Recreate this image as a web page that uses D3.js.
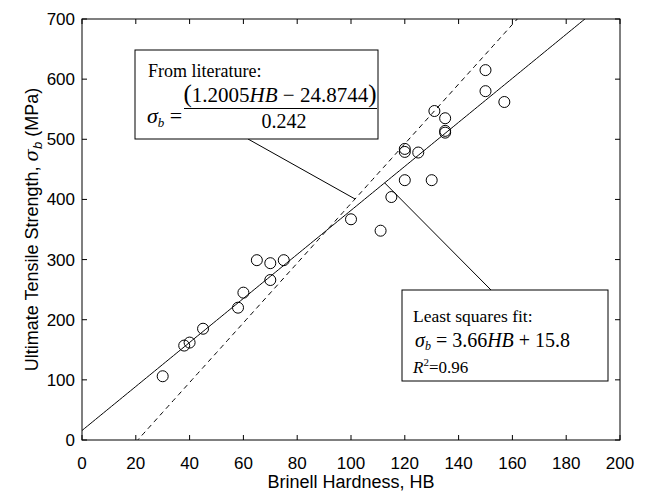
<!DOCTYPE html>
<html>
<head>
<meta charset="utf-8">
<script src="https://cdn.jsdelivr.net/npm/d3@7"></script>
<style>
  html, body { margin: 0; padding: 0; background: #fff; }
  svg { display: block; }
  .tick-label { font-family: "Liberation Sans", Arial, sans-serif; font-size: 17px; fill: #000; }
  .axis-title { font-family: "Liberation Sans", Arial, sans-serif; font-size: 18px; fill: #000; }
  .note { font-family: "Liberation Serif", "Times New Roman", serif; fill: #000; }
</style>
</head>
<body>
<svg id="chart" width="647" height="496"></svg>
<script>
// Measured specimens: Brinell hardness (HB) and ultimate tensile strength (MPa)
const hardness = [30, 38, 40, 45, 58, 60, 65, 70, 75, 70,
                  100, 111, 115, 120, 130, 120, 120, 125, 135, 135,
                  131, 135, 150, 150, 157];
const strength = [106, 157, 162, 185, 220, 245, 299, 294, 299, 266,
                  367, 348, 404, 432, 432, 484, 479, 478, 511, 514,
                  547, 535, 615, 580, 562];

// Axis ticks
const xTicks = [0, 20, 40, 60, 80, 100, 120, 140, 160, 180, 200];
const yTicks = [0, 100, 200, 300, 400, 500, 600, 700];

// Fitted relations
const fitSlope = 3.66, fitIntercept = 15.8;          // least squares fit
const litA = 1.2005, litB = 24.8744, litC = 0.242;   // literature relation
const fitLine = hb => fitSlope * hb + fitIntercept;
const litLine = hb => (litA * hb - litB) / litC;

const svg = d3.select("#chart");
const x = d3.scaleLinear().domain([0, 200]).range([82, 620]);
const y = d3.scaleLinear().domain([0, 700]).range([440, 19]);
const [x0, x1] = x.range();
const [y0, y1] = y.range();

svg.append("defs").append("clipPath").attr("id", "plot-clip")
  .append("rect").attr("x", x0).attr("y", y1).attr("width", x1 - x0).attr("height", y0 - y1);

// Frame with inward ticks on all four sides
const tickLen = 5;
const frame = svg.append("g").attr("stroke", "#000").attr("stroke-width", 1).attr("fill", "none");
frame.append("rect").attr("x", x0).attr("y", y1).attr("width", x1 - x0).attr("height", y0 - y1);
xTicks.forEach(t => {
  frame.append("line").attr("x1", x(t)).attr("x2", x(t)).attr("y1", y0).attr("y2", y0 - tickLen);
  frame.append("line").attr("x1", x(t)).attr("x2", x(t)).attr("y1", y1).attr("y2", y1 + tickLen);
});
yTicks.forEach(t => {
  frame.append("line").attr("x1", x0).attr("x2", x0 + tickLen).attr("y1", y(t)).attr("y2", y(t));
  frame.append("line").attr("x1", x1).attr("x2", x1 - tickLen).attr("y1", y(t)).attr("y2", y(t));
});

// Tick labels
svg.append("g").selectAll("text").data(xTicks).join("text")
  .attr("class", "tick-label").attr("x", d => x(d)).attr("y", y0 + 29)
  .attr("text-anchor", "middle").text(d => d);
svg.append("g").selectAll("text").data(yTicks).join("text")
  .attr("class", "tick-label").attr("x", x0 - 7).attr("y", d => y(d) + 6)
  .attr("text-anchor", "end").text(d => d);

// Axis titles
svg.append("text").attr("class", "axis-title")
  .attr("x", (x0 + x1) / 2).attr("y", 488).attr("text-anchor", "middle")
  .text("Brinell Hardness, HB");
const yt = svg.append("text").attr("class", "axis-title")
  .attr("transform", `translate(38,${(y0 + y1) / 2}) rotate(-90)`).attr("text-anchor", "middle");
yt.append("tspan").text("Ultimate Tensile Strength, ");
yt.append("tspan").attr("font-style", "italic").attr("font-family", "DejaVu Serif, serif").text("σ");
yt.append("tspan").attr("font-style", "italic").attr("font-size", "13px").attr("dy", 4).text("b");
yt.append("tspan").attr("dy", -4).text(" (MPa)");

// Trend lines
const plot = svg.append("g").attr("clip-path", "url(#plot-clip)");
const line = d3.line().x(d => x(d[0])).y(d => y(d[1]));
const hbRange = d3.range(0, 201, 1);
plot.append("path")
  .datum(hbRange.map(h => [h, fitLine(h)]))
  .attr("d", line).attr("fill", "none").attr("stroke", "#000").attr("stroke-width", 1);
plot.append("path")
  .datum(hbRange.map(h => [h, litLine(h)]).filter(d => d[1] >= -5))
  .attr("d", line).attr("fill", "none").attr("stroke", "#000").attr("stroke-width", 1)
  .attr("stroke-dasharray", "5,4");

// Data points
plot.append("g").selectAll("circle").data(hardness.map((h, i) => [h, strength[i]])).join("circle")
  .attr("cx", d => x(d[0])).attr("cy", d => y(d[1])).attr("r", 5.5)
  .attr("fill", "none").attr("stroke", "#000").attr("stroke-width", 1);

// Leader lines from the notes to the curves
const litPointHB = 101.5, fitPointHB = 112.5;
svg.append("line").attr("x1", 248).attr("y1", 139)
  .attr("x2", x(litPointHB)).attr("y2", y(litLine(litPointHB)))
  .attr("stroke", "#000").attr("stroke-width", 1);
svg.append("line").attr("x1", 491).attr("y1", 290)
  .attr("x2", x(fitPointHB)).attr("y2", y(fitLine(fitPointHB)))
  .attr("stroke", "#000").attr("stroke-width", 1);

// Note: literature relation
const n1 = svg.append("g").attr("class", "note");
n1.append("rect").attr("x", 135).attr("y", 50).attr("width", 243).attr("height", 89)
  .attr("fill", "#fff").attr("stroke", "#000").attr("stroke-width", 1);
n1.append("text").attr("x", 148).attr("y", 77).attr("font-size", "18px").text("From literature:");
const s1 = n1.append("text").attr("x", 147).attr("y", 123).attr("font-size", "22px");
s1.append("tspan").attr("font-style", "italic").text("σ");
s1.append("tspan").attr("font-style", "italic").attr("font-size", "13px").attr("dy", 4).text("b");
s1.append("tspan").attr("dy", -4).text(" =");
const num = n1.append("text").attr("x", 280).attr("y", 102).attr("font-size", "21px")
  .attr("text-anchor", "middle");
num.append("tspan").attr("font-size", "25px").text("(");
num.append("tspan").text(`${litA.toFixed(4)}`);
num.append("tspan").attr("font-style", "italic").text("HB");
num.append("tspan").text(` − ${litB.toFixed(4)}`);
num.append("tspan").attr("font-size", "25px").text(")");
n1.append("line").attr("x1", 184).attr("x2", 377).attr("y1", 108.5).attr("y2", 108.5)
  .attr("stroke", "#000").attr("stroke-width", 1);
n1.append("text").attr("x", 284).attr("y", 128).attr("font-size", "20px")
  .attr("text-anchor", "middle").text(litC.toFixed(3));

// Note: least squares fit
const n2 = svg.append("g").attr("class", "note");
n2.append("rect").attr("x", 402).attr("y", 290).attr("width", 206).attr("height", 91)
  .attr("fill", "#fff").attr("stroke", "#000").attr("stroke-width", 1);
n2.append("text").attr("x", 413).attr("y", 322).attr("font-size", "17.5px").text("Least squares fit:");
const s2 = n2.append("text").attr("x", 415).attr("y", 347).attr("font-size", "20px");
s2.append("tspan").attr("font-style", "italic").text("σ");
s2.append("tspan").attr("font-style", "italic").attr("font-size", "12px").attr("dy", 3).text("b");
s2.append("tspan").attr("dy", -3).text(` = ${fitSlope.toFixed(2)}`);
s2.append("tspan").attr("font-style", "italic").text("HB");
s2.append("tspan").text(` + ${fitIntercept.toFixed(1)}`);
const r2 = n2.append("text").attr("x", 413).attr("y", 373).attr("font-size", "17px");
r2.append("tspan").attr("font-style", "italic").text("R");
r2.append("tspan").attr("font-size", "11px").attr("dy", -7).text("2");
r2.append("tspan").attr("dy", 7).text("=0.96");
</script>
</body>
</html>
